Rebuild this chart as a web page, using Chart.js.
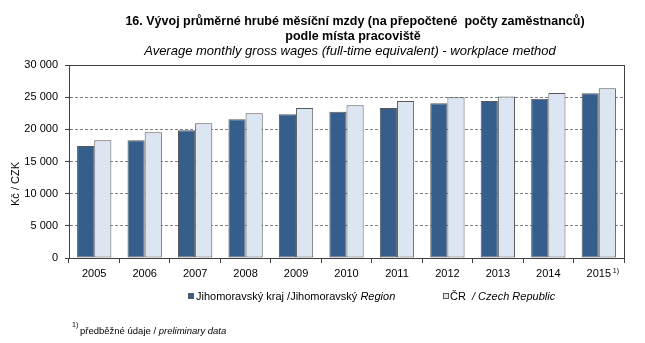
<!DOCTYPE html>
<html>
<head>
<meta charset="utf-8">
<script src="https://cdn.jsdelivr.net/npm/chart.js@4/dist/chart.umd.min.js"></script>
<style>
  html, body { margin: 0; padding: 0; background: #fff; }
  #wrap { width: 645px; height: 343px; }
</style>
</head>
<body>
<div id="wrap"><canvas id="wages" width="645" height="343"></canvas></div>
<script>
const years = ['2005', '2006', '2007', '2008', '2009', '2010', '2011', '2012', '2013', '2014', '2015'];
const regionWages = [17400, 18300, 19850, 21550, 22350, 22750, 23300, 24050, 24400, 24750, 25600];
const czWages = [18300, 19550, 20950, 22500, 23300, 23750, 24400, 25000, 25100, 25650, 26400];
const yTicks = [0, 5000, 10000, 15000, 20000, 25000, 30000];

const FONT = "'Liberation Sans', Arial, sans-serif";

// "30000" -> "30 000"
const fmt = v => String(v).replace(/\B(?=(\d{3})+(?!\d))/g, ' ');

// title, axis caption, legend, footnote and frame drawn on top of the chart
const decorations = {
  id: 'decorations',
  afterDraw(chart) {
    const ctx = chart.ctx;
    const area = chart.chartArea;
    ctx.save();

    // frame round the plot
    ctx.strokeStyle = '#404040';
    ctx.lineWidth = 1;
    ctx.strokeRect(Math.round(area.left) + 0.5, Math.round(area.top) + 0.5,
      Math.round(area.right - area.left), Math.round(area.bottom - area.top));

    ctx.fillStyle = '#000';
    ctx.textBaseline = 'middle';
    ctx.textAlign = 'center';
    ctx.font = 'bold 12.5px ' + FONT;
    ctx.fillText('16. Vývoj průměrné hrubé měsíční mzdy (na přepočtené  počty zaměstnanců)', 355, 22);
    ctx.fillText('podle místa pracoviště', 353, 37);
    ctx.font = 'italic 13px ' + FONT;
    ctx.fillText('Average monthly gross wages (full-time equivalent) - workplace method', 350, 51);

    // y axis caption
    ctx.save();
    ctx.translate(16, 184);
    ctx.rotate(-Math.PI / 2);
    ctx.font = '11px ' + FONT;
    ctx.fillText('Kč / CZK', 0, 0);
    ctx.restore();

    // superscript after the last year
    const x = chart.scales.x;
    const lastX = x.getPixelForValue(years.length - 1);
    ctx.textAlign = 'left';
    ctx.font = '7px ' + FONT;
    ctx.fillText('1)', lastX + 14, 271);

    // legend
    ctx.lineWidth = 1;
    ctx.strokeStyle = '#595959';
    ctx.fillStyle = '#355E8D';
    ctx.fillRect(188, 293, 6, 6);
    ctx.strokeRect(188.5, 293.5, 5, 5);
    ctx.fillStyle = '#DCE6F2';
    ctx.fillRect(443, 293, 6, 6);
    ctx.strokeRect(443.5, 293.5, 5, 5);

    ctx.fillStyle = '#000';
    ctx.font = '11px ' + FONT;
    let t = 'Jihomoravský kraj /Jihomoravský ';
    ctx.fillText(t, 196, 297);
    let w = ctx.measureText(t).width;
    ctx.font = 'italic 11px ' + FONT;
    ctx.fillText('Region', 196 + w, 297);

    ctx.font = '11px ' + FONT;
    ctx.fillText('ČR', 450, 297);
    ctx.font = 'italic 11px ' + FONT;
    ctx.fillText('/ Czech Republic', 472, 297);

    // footnote
    ctx.font = '7px ' + FONT;
    ctx.fillText('1)', 72, 325);
    ctx.font = '9.5px ' + FONT;
    t = 'předběžné údaje / ';
    ctx.fillText(t, 80, 331);
    w = ctx.measureText(t).width;
    ctx.font = 'italic 9.5px ' + FONT;
    ctx.fillText('preliminary data', 80 + w, 331);

    ctx.restore();
  }
};

new Chart(document.getElementById('wages'), {
  type: 'bar',
  data: {
    labels: years,
    datasets: [{
      label: 'Jihomoravský kraj / Jihomoravský Region',
      data: regionWages,
      backgroundColor: '#355E8D',
      borderColor: '#595959',
      borderWidth: 1,
      borderSkipped: false
    }, {
      label: 'ČR / Czech Republic',
      data: czWages,
      backgroundColor: '#DCE6F2',
      borderColor: '#595959',
      borderWidth: 1,
      borderSkipped: false
    }]
  },
  options: {
    responsive: false,
    animation: false,
    devicePixelRatio: 1,
    layout: { padding: { top: 65, right: 21, bottom: 0, left: 0 } },
    datasets: { bar: { categoryPercentage: 0.68, barPercentage: 1.0 } },
    plugins: {
      legend: { display: false },
      tooltip: { enabled: false }
    },
    scales: {
      x: {
        offset: true,
        afterFit: s => { s.height = 85; },
        grid: { offset: true, drawOnChartArea: false, drawTicks: true, tickLength: 5, tickColor: '#404040' },
        border: { display: true, color: '#404040' },
        ticks: { color: '#000', font: { family: FONT, size: 11 }, padding: 4, maxRotation: 0 }
      },
      y: {
        min: 0,
        max: 30000,
        afterFit: s => { s.width = 69; },
        afterBuildTicks: s => { s.ticks = yTicks.map(v => ({ value: v })); },
        grid: { color: '#808080', tickLength: 4, tickColor: '#404040', tickBorderDash: [] },
        border: { display: true, color: '#404040', dash: [3, 2] },
        ticks: { color: '#000', font: { family: FONT, size: 11 }, padding: 7, callback: v => fmt(v) }
      }
    }
  },
  plugins: [decorations]
});
</script>
</body>
</html>
